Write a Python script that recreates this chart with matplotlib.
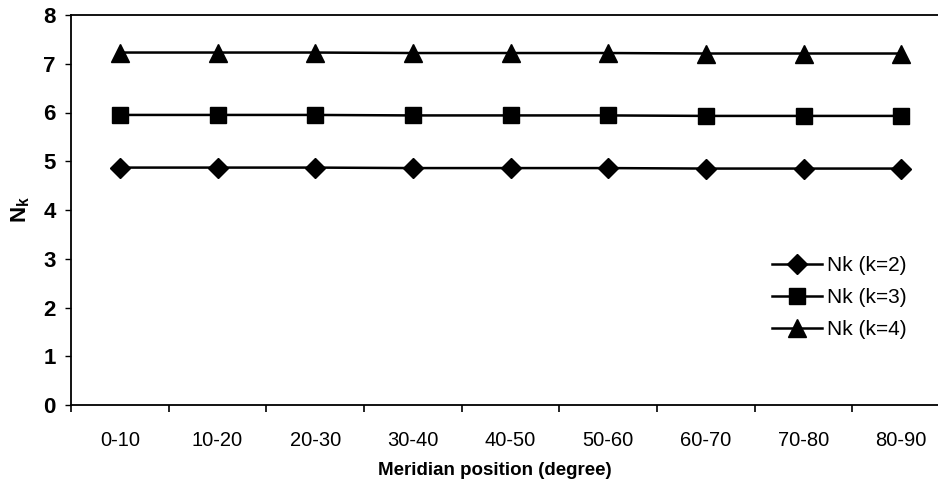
import matplotlib.pyplot as plt
import numpy as np

plt.rcParams['font.family'] = ['Liberation Sans', 'DejaVu Sans']
plt.rcParams['mathtext.fontset'] = 'custom'
plt.rcParams['mathtext.rm'] = 'Liberation Sans'
plt.rcParams['mathtext.bf'] = 'Liberation Sans:bold'

# dane
kategorie = ['0-10', '10-20', '20-30', '30-40', '40-50', '50-60', '60-70', '70-80', '80-90']
nk_k2 = [4.87, 4.87, 4.87, 4.86, 4.86, 4.86, 4.85, 4.85, 4.85]
nk_k3 = [5.95, 5.95, 5.95, 5.94, 5.94, 5.94, 5.93, 5.93, 5.93]
nk_k4 = [7.23, 7.23, 7.23, 7.22, 7.22, 7.22, 7.21, 7.21, 7.21]
etykiety = ['Nk (k=2)', 'Nk (k=3)', 'Nk (k=4)']

fig = plt.figure(figsize=(9.38, 4.95), dpi=100)
# os wychodzi poza prawa krawedz, tak jak w oryginale
ax = fig.add_axes([71 / 938, 90 / 495, 879 / 938, 390 / 495])

x = np.arange(len(kategorie))
ax.plot(x, nk_k2, color='black', lw=1.8, marker='D', ms=10, label=etykiety[0])
ax.plot(x, nk_k3, color='black', lw=1.8, marker='s', ms=12, label=etykiety[1])
ax.plot(x, nk_k4, color='black', lw=1.8, marker='^', ms=13, label=etykiety[2])

ax.set_xlim(-0.5, len(kategorie) - 0.5)
ax.set_ylim(0, 8)
ax.set_yticks(range(0, 9))
ax.set_yticklabels([str(i) for i in range(0, 9)], fontsize=16, fontweight='bold')

ax.set_xticks(x)
ax.set_xticklabels(kategorie, fontsize=14.5)
ax.set_xticks(np.arange(-0.5, len(kategorie)), minor=True)
ax.tick_params(axis='x', which='major', length=0, pad=19)
ax.tick_params(axis='x', which='minor', length=5, width=1.2, direction='out')
ax.tick_params(axis='y', length=4, width=1, direction='out', pad=7)

for s in ['left', 'bottom', 'top']:
    ax.spines[s].set_linewidth(1.3)
ax.spines['right'].set_visible(False)

ax.set_xlabel('Meridian position (degree)', fontsize=13.5, fontweight='bold')
ax.xaxis.set_label_coords((495 - 71) / 879, -0.147)
ax.set_ylabel(r'$\mathbf{N_k}$', fontsize=16, labelpad=8)

fig.legend(loc='upper left', bbox_to_anchor=(772 / 938, 1 - 256 / 495), frameon=False,
           fontsize=15, handlelength=2.4, handletextpad=0.25, labelspacing=0.62,
           borderpad=0, borderaxespad=0)

fig.savefig('out.png', dpi=100)
